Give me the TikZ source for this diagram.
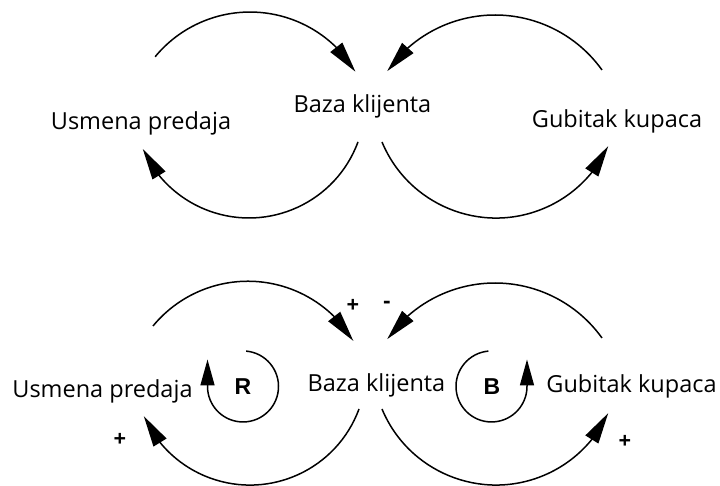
\documentclass[tikz,border=0pt]{standalone}
\usepackage{fontspec}
\setmainfont{Open Sans}
\newfontfamily\rbfont{Liberation Sans}
\usetikzlibrary{arrows.meta,bending}
\begin{document}
\begin{tikzpicture}[x=1pt,y=1pt,
  lbl/.style={anchor=base,inner sep=0pt,font=\fontsize{23.5}{28}\selectfont},
  sgn/.style={inner sep=0pt,font=\fontsize{22}{26}\selectfont\bfseries},
  looplbl/.style={inner sep=0pt,font=\rbfont\fontsize{23}{27}\selectfont\bfseries},
  link/.style={line width=1.5pt,-{Triangle[length=31pt,width=15pt]}},
  loopa/.style={line width=1.5pt,-{Triangle[length=26pt,width=14pt]}}]
\useasboundingbox (0,0) rectangle (720,486);
% ---------- top diagram ----------
\node[lbl] (u1) at (141,356) {Usmena predaja};
\node[lbl] (b1) at (362.5,373) {Baza klijenta};
\node[lbl] (g1) at (617,358) {Gubitak kupaca};
\coordinate (tl1) at (155.1,429.2);
\coordinate (tr1) at (602,416);
\coordinate (bl1) at (358,344.1);
\coordinate (br1) at (382,344);
\draw[link] (tl1) arc[start angle=140.5, end angle=31, radius=123];
\draw[link] (tr1) arc[start angle=35.6, end angle=145, radius=131.6];
\draw[link] (bl1) arc[start angle=-20.2, end angle=-156, radius=116.2];
\draw[link] (br1) arc[start angle=-157.4, end angle=-24.7, radius=123.5];
% ---------- bottom diagram ----------
\node[lbl] (u2) at (102.5,88) {Usmena predaja};
\node[lbl] (b2) at (376.5,94) {Baza klijenta};
\node[lbl] (g2) at (631.5,93) {Gubitak kupaca};
\coordinate (tl2) at (153,160);
\coordinate (tr2) at (602,148);
\coordinate (bl2) at (359,77);
\coordinate (br2) at (382,77);
\draw[link] (tl2) arc[start angle=140.5, end angle=31, radius=123];
\draw[link] (tr2) arc[start angle=35.6, end angle=145, radius=131.6];
\draw[link] (bl2) arc[start angle=-20.2, end angle=-156, radius=116.2];
\draw[link] (br2) arc[start angle=-157.4, end angle=-24.7, radius=123.5];
\node[sgn] (s1) at (353,180) {+};
\node[sgn] (s2) at (387,181) {-};
\node[sgn] (s3) at (120,46) {+};
\node[sgn] (s4) at (625,44) {+};
% loops
\node[looplbl] (R) at (243,99) {R};
\node[looplbl] (B) at (492,99) {B};
\coordinate (rs) at (246.1,134.9);
\coordinate (bs) at (488.4,134.9);
\draw[loopa] (rs) arc[start angle=85, end angle=-180, radius=35.5] -- ++(0,27);
\draw[loopa] (bs) arc[start angle=95, end angle=360, radius=35.5] -- ++(0,27);
\end{tikzpicture}
\end{document}
